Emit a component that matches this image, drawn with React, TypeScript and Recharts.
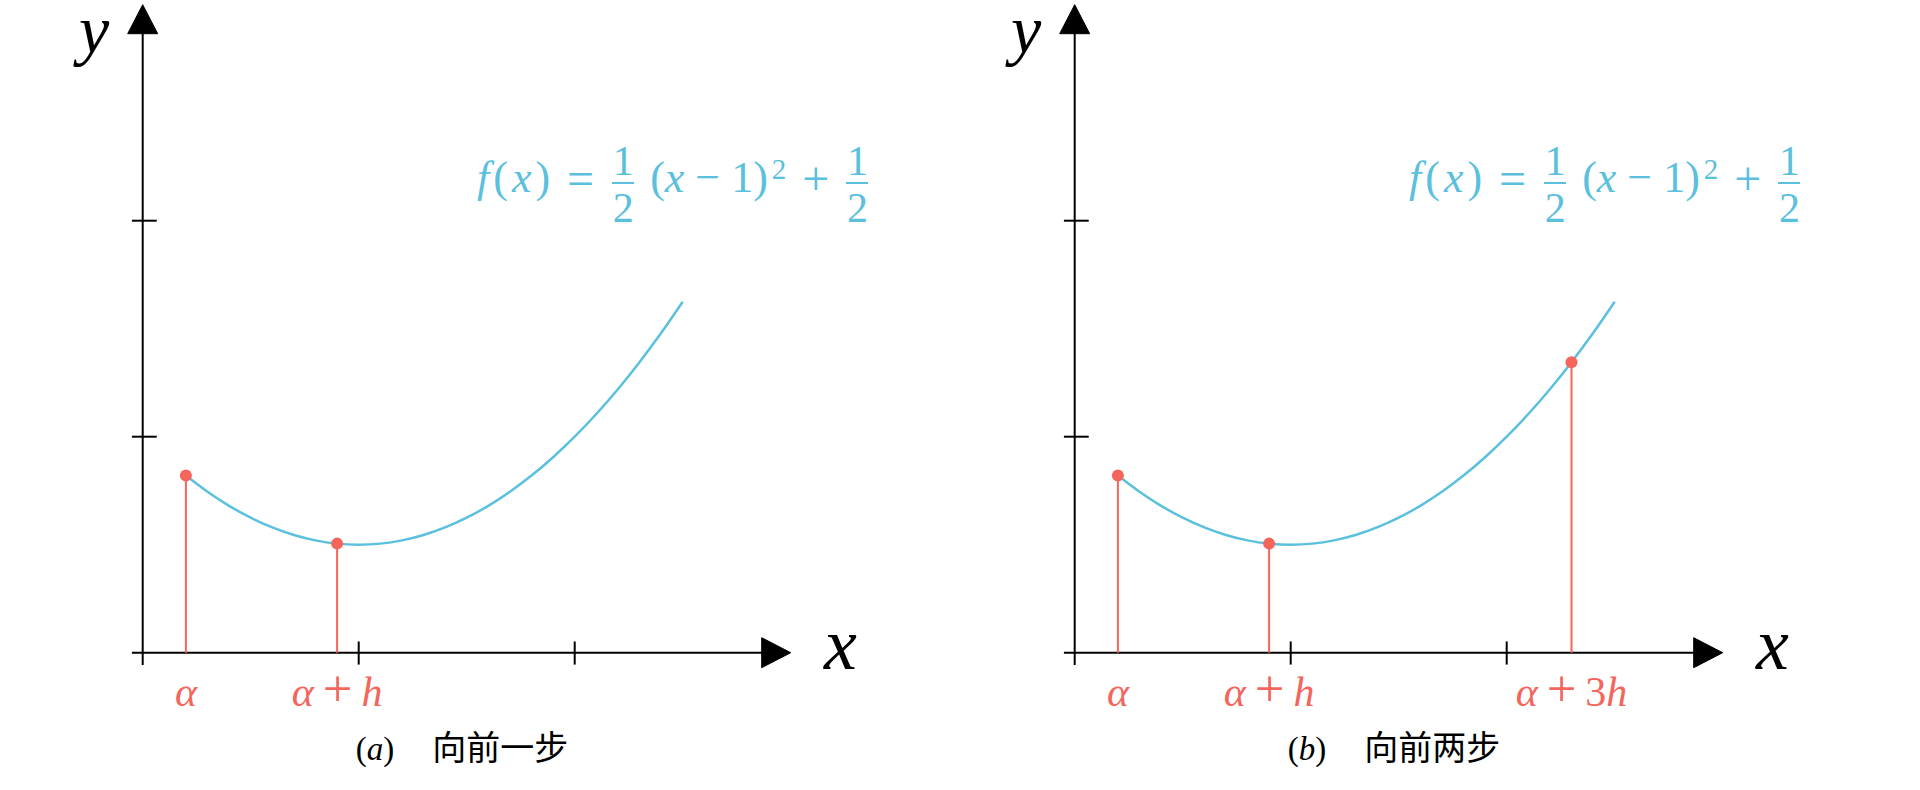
import { ComposedChart, Line, XAxis, YAxis, ReferenceLine, ReferenceDot } from 'recharts'

// values (one unit = one tick)
const curveX = [0.2, 0.3, 0.4, 0.5, 0.6, 0.7, 0.8, 0.9, 1.0, 1.1, 1.2, 1.3, 1.4, 1.5, 1.6, 1.7, 1.8, 1.9, 2.0, 2.1, 2.2, 2.3, 2.4, 2.5]
const curveY = [0.82, 0.745, 0.68, 0.625, 0.58, 0.545, 0.52, 0.505, 0.5, 0.505, 0.52, 0.545, 0.58, 0.625, 0.68, 0.745, 0.82, 0.905, 1.0, 1.105, 1.22, 1.345, 1.48, 1.625]

const axisTicks = [1, 2]

const stepXA = [0.2, 0.9]
const stepYA = [0.82, 0.505]
const stepLabelsA = ['α', 'α + h']

const stepXB = [0.2, 0.9, 2.3]
const stepYB = [0.82, 0.505, 1.345]
const stepLabelsB = ['α', 'α + h', 'α + 3h']

const BLUE = '#5bc0de'
const RED = '#f4655c'
const SERIF = '"Liberation Serif", serif'
const CJK = '"Noto Sans CJK SC", "Noto Sans", sans-serif'

const X_DOMAIN = [-0.6, 3.65]
const Y_DOMAIN = [-0.06, 3.0]

const curveData = curveX.map((x, i) => ({ x, y: curveY[i] }))

function MathLabel({ x, y, text, fill, size }: any) {
  const parts = text.split(' ')
  return (
    <text x={x} y={y} textAnchor="middle" fill={fill} fontFamily={SERIF} fontSize={size}>
      {parts.map((p: string, i: number) =>
        [...p].map((ch, j) => (
          <tspan
            key={`${i}-${j}`}
            dx={i > 0 && j === 0 ? 9 : 0}
            fontStyle={/[a-zα]/.test(ch) ? 'italic' : 'normal'}
            fontSize={ch === '+' ? size * 1.25 : size}
          >
            {ch}
          </tspan>
        ))
      )}
    </text>
  )
}

function Frac({ ml }: { ml: number }) {
  return (
    <span
      style={{
        display: 'inline-flex', flexDirection: 'column', alignItems: 'center',
        marginLeft: ml, fontSize: 42, lineHeight: 1, width: 22,
      }}
    >
      <span>1</span>
      <span style={{ borderTop: `2px solid ${BLUE}`, width: 22, height: 0 }} />
      <span style={{ paddingTop: 3 }}>2</span>
    </span>
  )
}

function Formula({ left }: { left: number }) {
  const txt = { fontSize: 44, lineHeight: 1, marginTop: 16.4 }
  const op = { fontSize: 48, lineHeight: 1, marginTop: 14.8 }
  return (
    <div
      style={{
        position: 'absolute', left, top: 140, display: 'flex', alignItems: 'flex-start',
        fontFamily: SERIF, color: BLUE, whiteSpace: 'nowrap',
      }}
    >
      <span style={{ ...txt, letterSpacing: 4 }}><i>f</i>(<i>x</i>)</span>
      <span style={{ ...op, marginLeft: 13 }}>=</span>
      <Frac ml={18} />
      <span style={{ ...txt, marginLeft: 16 }}>(<i>x</i><span style={{ margin: '0 11px' }}>−</span>1)</span>
      <span style={{ fontSize: 29, lineHeight: 1, marginTop: 15, marginLeft: 4 }}>2</span>
      <span style={{ ...op, marginLeft: 16 }}>+</span>
      <Frac ml={17} />
    </div>
  )
}

function Panel({ left, stepX, stepY, stepLabels, tag, title }: any) {
  const tickRenderer = (props: any) => {
    const idx = stepX.indexOf(props.payload.value)
    return <MathLabel x={props.x} y={props.y + 40} text={stepLabels[idx]} fill={RED} size={42} />
  }
  return (
    <div style={{ position: 'absolute', left, top: 0, width: 940, height: 790 }}>
      <ComposedChart
        width={940}
        height={790}
        data={curveData}
        margin={{ top: 4.7, right: 8.9, left: 13.1, bottom: 64.34 }}
      >
        <XAxis
          type="number"
          dataKey="x"
          domain={X_DOMAIN}
          ticks={stepX}
          allowDataOverflow
          axisLine={false}
          tickLine={false}
          tickSize={0}
          tickMargin={0}
          height={60}
          interval={0}
          tick={tickRenderer}
        />
        <YAxis type="number" dataKey="y" domain={Y_DOMAIN} allowDataOverflow hide />

        {/* axes */}
        <ReferenceLine segment={[{ x: -0.05, y: 0 }, { x: 2.88, y: 0 }]} stroke="#000" strokeWidth={2} />
        <ReferenceLine segment={[{ x: 0, y: -0.057 }, { x: 0, y: 2.88 }]} stroke="#000" strokeWidth={2} />
        {axisTicks.map((t) => (
          <ReferenceLine key={`xt${t}`} segment={[{ x: t, y: -0.055 }, { x: t, y: 0.052 }]} stroke="#000" strokeWidth={2} />
        ))}
        {axisTicks.map((t) => (
          <ReferenceLine key={`yt${t}`} segment={[{ x: -0.05, y: t }, { x: 0.065, y: t }]} stroke="#000" strokeWidth={2} />
        ))}
        <ReferenceDot
          x={3.0}
          y={0}
          r={1}
          shape={(p: any) => (
            <polygon points={`${p.cx},${p.cy} ${p.cx - 29},${p.cy - 15} ${p.cx - 29},${p.cy + 15}`} fill="#000" stroke="#000" strokeWidth={1} />
          )}
        />
        <ReferenceDot
          x={0}
          y={3.0}
          r={1}
          shape={(p: any) => (
            <polygon points={`${p.cx},${p.cy} ${p.cx - 15},${p.cy + 29} ${p.cx + 15},${p.cy + 29}`} fill="#000" stroke="#000" strokeWidth={1} />
          )}
        />
        <ReferenceDot
          x={3.23}
          y={0}
          r={1}
          shape={(p: any) => (
            <text x={p.cx} y={p.cy + 16} textAnchor="middle" fontFamily={SERIF} fontStyle="italic" fontSize={74} fill="#000">x</text>
          )}
        />
        <ReferenceDot
          x={-0.225}
          y={2.776}
          r={1}
          shape={(p: any) => (
            <text x={p.cx} y={p.cy} textAnchor="middle" fontFamily={SERIF} fontStyle="italic" fontSize={68} fill="#000">y</text>
          )}
        />

        {/* step stems */}
        {stepX.map((sx: number, i: number) => (
          <ReferenceLine key={`s${i}`} segment={[{ x: sx, y: 0 }, { x: sx, y: stepY[i] }]} stroke={RED} strokeWidth={2} />
        ))}

        <Line type="monotone" dataKey="y" stroke={BLUE} strokeWidth={2.5} dot={false} isAnimationActive={false} />

        {stepX.map((sx: number, i: number) => (
          <ReferenceDot key={`d${i}`} x={sx} y={stepY[i]} r={6} fill={RED} stroke="none" />
        ))}
      </ComposedChart>
      <Formula left={477} />
      <div
        style={{
          position: 'absolute', left: 0, width: 924, top: 728, textAlign: 'center',
          fontSize: 33, lineHeight: '36px', color: '#000', whiteSpace: 'nowrap',
        }}
      >
        <span style={{ fontFamily: SERIF }}>(<i>{tag}</i>)</span>
        <span style={{ fontFamily: CJK, marginLeft: 38, fontSize: 34 }}>{title}</span>
      </div>
    </div>
  )
}

export default function App() {
  return (
    <div style={{ position: 'absolute', left: 0, top: 0, width: 1920, height: 790, background: '#fff' }}>
      <Panel left={0} stepX={stepXA} stepY={stepYA} stepLabels={stepLabelsA} tag="a" title="向前一步" />
      <Panel left={932} stepX={stepXB} stepY={stepYB} stepLabels={stepLabelsB} tag="b" title="向前两步" />
    </div>
  )
}
